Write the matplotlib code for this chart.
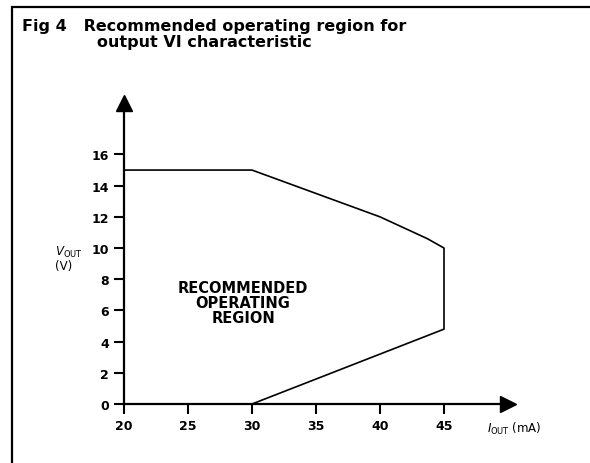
import matplotlib.pyplot as plt
from matplotlib.patches import Rectangle

# boundary of the recommended operating region
i_out = [20, 30, 40, 43.7, 45, 45, 30]
v_out = [15, 15, 12, 10.6, 10, 4.8, 0]
x_ticks = [20, 25, 30, 35, 40, 45]
y_ticks = [0, 2, 4, 6, 8, 10, 12, 14, 16]
title_lines = ["Fig 4   Recommended operating region for", "output VI characteristic"]
region_text = "RECOMMENDED\nOPERATING\nREGION"

W, H = 590, 464
fig = plt.figure(figsize=(W / 100, H / 100), dpi=100)

# frame around the figure (open at right and bottom)
fig.patches.append(Rectangle((12 / W, -0.1), 1.2, 1 - 8 / H + 0.1, transform=fig.transFigure,
                             fill=False, edgecolor="black", linewidth=1.6))

fig.text(22 / W, 1 - 31 / H, title_lines[0], fontsize=11.5, fontweight="bold", va="baseline")
fig.text(97 / W, 1 - 47 / H, title_lines[1], fontsize=11.5, fontweight="bold", va="baseline")

ax = fig.add_axes([124 / W, 59 / H, 384 / W, 301 / H])
ax.set_xlim(20, 50)
ax.set_ylim(0, 19.3)
ax.plot(i_out, v_out, color="black", linewidth=1.2, clip_on=False)

for s in ["top", "right"]:
    ax.spines[s].set_visible(False)
for s in ["left", "bottom"]:
    ax.spines[s].set_linewidth(1.6)

# arrow heads on the axes
ax.plot(1, 0, ">", color="black", markersize=11, transform=ax.transAxes, clip_on=False)
ax.plot(0, 1, "^", color="black", markersize=11, transform=ax.transAxes, clip_on=False)

ax.set_xticks(x_ticks)
ax.set_yticks(y_ticks)
ax.tick_params(direction="out", length=7, width=1.5, labelsize=9, pad=4)
for lab in ax.get_xticklabels() + ax.get_yticklabels():
    lab.set_fontweight("bold")

ax.text(29.3, 6.5, region_text, ha="center", va="center", fontsize=10.5,
        fontweight="bold", linespacing=1.0)

fig.text(55 / W, 1 - 270 / H, "$V_{\\mathrm{OUT}}$\n(V)", fontsize=8.5, ha="left", va="baseline",
         linespacing=1.0)
fig.text(487 / W, 1 - 433 / H, "$I_{\\mathrm{OUT}}$ (mA)", fontsize=8.5, ha="left", va="baseline")

fig.savefig("out.png", dpi=100)
